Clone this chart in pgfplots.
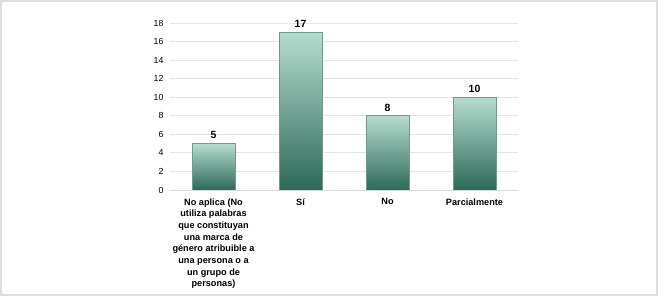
\documentclass[border=0pt]{standalone}
\usepackage{pgfplots}
\pgfplotsset{compat=1.18}
\usepackage{fontspec}
\setmainfont{Liberation Sans}
\definecolor{barlight}{HTML}{B6DCCF}
\definecolor{bardark}{HTML}{2C6A58}
\definecolor{baredge}{HTML}{6E9A8C}
\begin{document}
\begin{tikzpicture}[x=1bp,y=1bp]
\draw[gray!25, line width=1.5bp] (1,1) rectangle (657,295);
\path (0,0) rectangle (658,296);
\begin{axis}[
  at={(170bp,106bp)}, anchor=south west,
  scale only axis, width=348bp, height=167bp,
  ymin=0, ymax=18, ytick={0,2,...,18},
  xmin=-0.5, xmax=3.5,
  xtick={0,1,2,3},
  xticklabels={{No aplica (No\\utiliza palabras\\que constituyan\\una marca de\\género atribuible a\\una persona o a\\un grupo de\\personas)},{Sí},{No},{Parcialmente}},
  xticklabel style={align=center, font=\fontsize{9.2}{11.7}\selectfont\bfseries, anchor=north, yshift=-5bp},
  yticklabel style={font=\fontsize{8.8}{10}\selectfont, xshift=-3bp},
  /pgf/number format/assume math mode=true,
  ymajorgrids, grid style={gray!20, line width=0.8bp},
  axis line style={draw=none},
  major tick length=0pt,
  ybar, bar width=43bp, bar shift=0pt,
  nodes near coords,
  every node near coord/.append style={font=\fontsize{10.5}{12}\selectfont\bfseries, yshift=1bp},
  clip=false,
]
\addplot[draw=baredge, line width=0.6bp, top color=barlight, bottom color=bardark] coordinates {(0,5)};
\addplot[draw=baredge, line width=0.6bp, top color=barlight, bottom color=bardark] coordinates {(1,17)};
\addplot[draw=baredge, line width=0.6bp, top color=barlight, bottom color=bardark] coordinates {(2,8)};
\addplot[draw=baredge, line width=0.6bp, top color=barlight, bottom color=bardark] coordinates {(3,10)};
\draw[gray!30, line width=0.8bp] (axis cs:-0.5,0) -- (axis cs:3.5,0);
\end{axis}
\end{tikzpicture}
\end{document}
